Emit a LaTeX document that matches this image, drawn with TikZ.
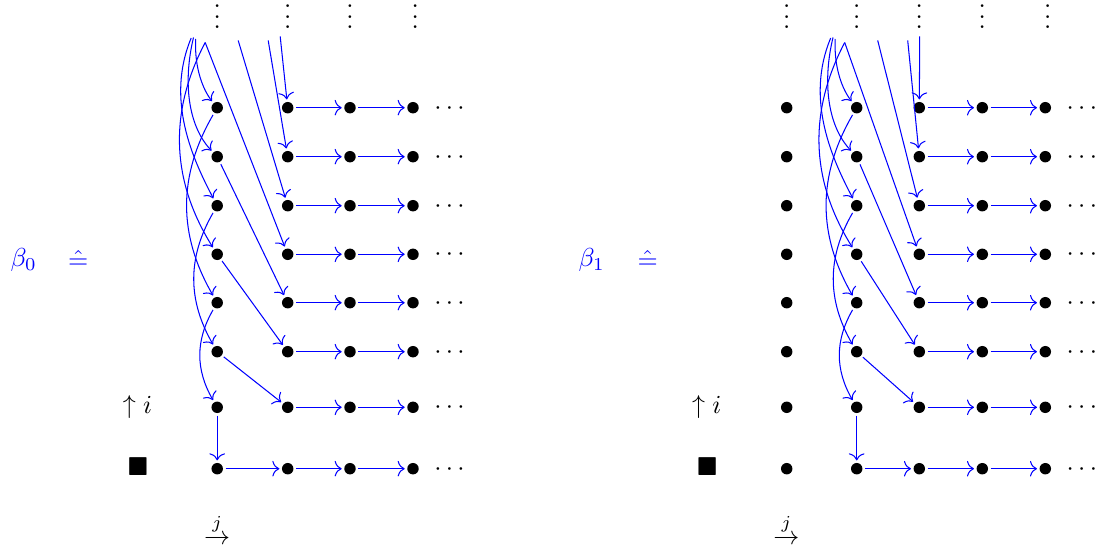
\documentclass[tikz,border=0pt]{standalone}
\usepackage{amsmath,amssymb}
\usetikzlibrary{arrows.meta}
\begin{document}
\begin{tikzpicture}[x=0.3846pt, y=-0.3846pt, >={Computer Modern Rightarrow[length=2.7pt, width=6pt]}]
    \tikzset{
        dot/.style={circle, fill, inner sep=0pt, minimum size=4.4pt, outer sep=1pt},
        map/.style={->, blue},
        lbl/.style={anchor=base, inner sep=0pt},
        vd/.style={lbl, text height=8.6pt, text depth=0pt},
    }
    \useasboundingbox (0,0) rectangle (1102,554);

    % 两幅图: l 为 beta_0, r 为 beta_1
    \foreach \p/\xa/\xb/\xc/\xd/\xe in {l/217.2/287.7/350/413/451.7, r/856.7/919.3/982.3/1045.3/1084} {
        % 格点、省略号和水平箭头
        \foreach \r/\y in {0/468.7,1/407.3,2/351.7,3/302.7,4/254.3,5/205.7,6/156.7,7/107.7} {
            \node[dot] (\p0-\r) at (\xa,\y) {};
            \node[dot] (\p1-\r) at (\xb,\y) {};
            \node[dot] (\p2-\r) at (\xc,\y) {};
            \node[dot] (\p3-\r) at (\xd,\y) {};
            \node[lbl] (\p h-\r) at (\xe,\y+6.5) {$\cdots$};
            \draw[map] (\p1-\r) -- (\p2-\r);
            \draw[map] (\p2-\r) -- (\p3-\r);
        }
        % 上方的竖省略号
        \node[vd] (\p v0) at (\xa,28.5) {$\vdots$};
        \node[vd] (\p v1) at (\xb,28.5) {$\vdots$};
        \node[vd] (\p v2) at (\xc,28.5) {$\vdots$};
        \node[vd] (\p v3) at (\xd+2.3,28.5) {$\vdots$};

        % 最下面一行和竖直箭头
        \draw[map] (\p0-0) -- (\p1-0);
        \draw[map] (\p0-1) -- (\p0-0);

        % 2k -> 第二列 k, 2k+1 -> 第一列 k
        \foreach \k in {1,2,3} {
            \pgfmathtruncatemacro\ev{2*\k}
            \pgfmathtruncatemacro\od{2*\k+1}
            \draw[map] (\p0-\ev) -- (\p1-\k);
            \draw[map] (\p0-\od) to[bend right=30] (\p0-\k);
        }

        % 从上方 (画面外) 进来的箭头
        \coordinate (\p a) at (\xa-12,42.5);
        \coordinate (\p b) at (\xa+21,40.5);
        \coordinate (\p c) at (\xa+51,40.5);
        \coordinate (\p d) at (\xa+63,36.5);
        \coordinate (\p e) at (\xa-26,38);
        \coordinate (\p f) at (\xa-23.7,37.5);
        \coordinate (\p g) at (\xa-21.5,39);
        \draw[map] (\p a) -- (\p1-4);
        \draw[map] (\p b) -- (\p1-5);
        \draw[map] (\p c) -- (\p1-6);
        \draw[map] (\p d) -- (\p1-7);
        \draw[map] (\p a) .. controls (\xa-58,130) and (\xa-34,200) .. (\p0-4);
        \draw[map] (\p e) .. controls (\xa-52,100) and (\xa-24,160) .. (\p0-5);
        \draw[map] (\p f) .. controls (\xa-34,80) and (\xa-30,125) .. (\p0-6);
        \draw[map] (\p g) .. controls (\xa-23,68) and (\xa-14,90) .. (\p0-7);
    }

    % beta_1 多出的一列
    \foreach \r/\y in {0/468.7,1/407.3,2/351.7,3/302.7,4/254.3,5/205.7,6/156.7,7/107.7} {
        \node[dot] (re-\r) at (786.7,\y) {};
    }
    \node[vd] (rev) at (786.7,28.5) {$\vdots$};

    % 标注
    \node[lbl, anchor=base west, blue] (beta0) at (10,266.5) {$\beta_0$};
    \node[lbl, blue] (eq0) at (78.3,268) {$\hat{=}$};
    \node[lbl] (up0) at (137.5,413.8) {$\uparrow i$};
    \node[lbl] (sq0) at (138,475.2) {$\blacksquare$};
    \node[lbl] (j0) at (217,544.8) {$\overset{j}{\to}$};

    \node[lbl, anchor=base west, blue] (beta1) at (578,266.5) {$\beta_1$};
    \node[lbl, blue] (eq1) at (647.7,268) {$\hat{=}$};
    \node[lbl] (up1) at (706.7,413.8) {$\uparrow i$};
    \node[lbl] (sq1) at (707.3,475.2) {$\blacksquare$};
    \node[lbl] (j1) at (786.3,544.8) {$\overset{j}{\to}$};
\end{tikzpicture}
\end{document}
